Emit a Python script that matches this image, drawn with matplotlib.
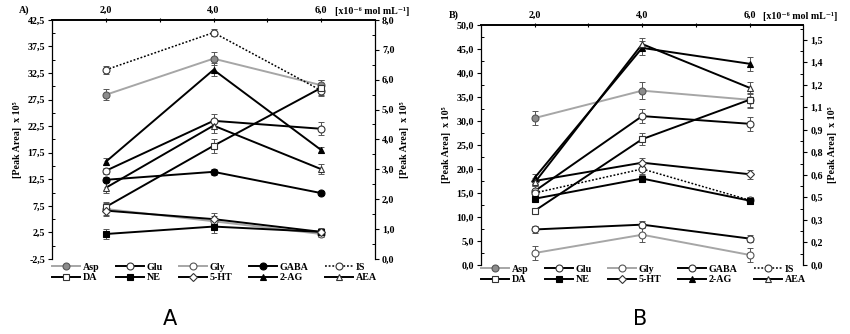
import numpy as np
import matplotlib.pyplot as plt
from matplotlib.ticker import MultipleLocator, FixedLocator

# concentration levels [x10-6 mol/mL]
conc = [2.0, 4.0, 6.0]
compounds = ['Asp', 'Glu', 'Gly', 'GABA', 'IS', 'DA', 'NE', '5-HT', '2-AG', 'AEA']

# Panel A - peak area x 10^5 (left axis units)
a_mean = [
    [28.4, 35.2, 30.2],   # Asp
    [14.1, 23.5, 22.0],   # Glu
    [6.9, 4.6, 2.2],      # Gly
    [12.4, 13.9, 9.9],    # GABA
    [33.1, 40.1, 29.2],   # IS
    [7.3, 18.8, 29.7],    # DA
    [2.2, 3.6, 2.6],      # NE
    [6.6, 5.0, 2.6],      # 5-HT
    [15.8, 33.1, 18.0],   # 2-AG
    [10.9, 22.6, 14.4],   # AEA
]
a_err = [
    [1.0, 1.2, 1.0], [0.6, 1.2, 1.2], [1.2, 1.0, 0.6], [0.5, 0.6, 0.4], [0.7, 0.7, 0.8],
    [0.9, 1.3, 1.5], [0.9, 1.2, 0.5], [1.0, 1.2, 0.8], [0.7, 1.2, 0.6], [1.0, 1.3, 0.9],
]

# Panel B - peak area x 10^5 (left axis units)
b_mean = [
    [30.6, 36.3, 34.4],   # Asp
    [15.4, 31.0, 29.4],   # Glu
    [2.5, 6.3, 2.1],      # Gly
    [7.4, 8.4, 5.5],      # GABA
    [15.0, 20.0, 13.5],   # IS
    [11.3, 26.2, 34.4],   # DA
    [13.8, 18.0, 13.4],   # NE
    [17.5, 21.3, 18.9],   # 5-HT
    [18.2, 45.2, 41.9],   # 2-AG
    [17.2, 46.0, 36.9],   # AEA
]
b_err = [
    [1.5, 1.8, 1.5], [1.0, 1.5, 1.5], [1.4, 1.6, 1.5], [0.8, 0.8, 0.8], [0.8, 1.0, 0.6],
    [0.5, 1.3, 1.8], [0.7, 0.8, 0.8], [0.7, 1.0, 0.9], [0.8, 1.5, 1.5], [0.8, 1.3, 1.2],
]

a_right_ticks = [0, 1, 2, 3, 4, 5, 6, 7, 8]
b_right_ticks = [0, 0.15, 0.30, 0.45, 0.60, 0.75, 0.90, 1.05, 1.20, 1.35, 1.50]
b_right_labels = ['0,0', '0,2', '0,3', '0,5', '0,6', '0,8', '0,9', '1,1', '1,2', '1,4', '1,5']

GRAY = '#a6a6a6'
serif = ['Liberation Serif', 'DejaVu Serif']
fs = 7.2

def style(name, panel):
    s = dict(color='black', ls='-', marker='o', mfc='white', mec='#333333', lw=1.4)
    if name == 'Asp':
        s.update(color=GRAY, mfc='#8c8c8c', mec='#555555')
    elif name == 'Gly':
        s.update(color=GRAY, mec='#555555')
    elif name == 'GABA' and panel == 'A':
        s.update(mfc='black', mec='black')
    elif name == 'IS':
        s.update(ls=(0, (1.2, 1.2)), lw=1.1)
    elif name == 'DA':
        s.update(marker='s')
    elif name == 'NE':
        s.update(marker='s', mfc='black', mec='black')
    elif name == '5-HT':
        s.update(marker='D', ms_scale=0.8)
    elif name == '2-AG':
        s.update(marker='^', mfc='black', mec='black')
    elif name == 'AEA':
        s.update(marker='^')
    return s


fig = plt.figure(figsize=(8.5, 3.34), dpi=100)
plt.rcParams['font.family'] = serif
plt.rcParams['font.weight'] = 'bold'


def fmt(v):
    return f'{v:.1f}'.replace('.', ',')


def panel(rect, means, errs, ylim, left_ticks, right_lim, right_ticks, right_labels,
          tag, big, big_x, leg_y):
    ax = fig.add_axes(rect)
    handles = {}
    for name, m, e in zip(compounds, means, errs):
        s = style(name, tag)
        ms = 5.0 * s.pop('ms_scale', 1.0)
        ax.errorbar(conc, m, yerr=e, fmt='none', ecolor='#555555', elinewidth=0.7,
                    capsize=2, capthick=0.7, zorder=2)
        h, = ax.plot(conc, m, color=s['color'], ls=s['ls'], lw=s['lw'],
                     marker=s['marker'], ms=ms, mfc=s['mfc'], mec=s['mec'],
                     mew=0.8, zorder=3, label=name)
        handles[name] = h
    ax.set_xlim(1, 7)
    ax.set_ylim(*ylim)
    ax.spines['bottom'].set_visible(False)
    ax.spines['top'].set_linewidth(1.4)
    ax.spines['left'].set_linewidth(0.9)
    ax.spines['right'].set_visible(False)
    ax.xaxis.tick_top()
    ax.set_xticks([2, 4, 6])
    ax.set_xticklabels([fmt(v) for v in [2, 4, 6]], fontsize=fs, fontweight='bold')
    ax.xaxis.set_minor_locator(FixedLocator([3, 5]))
    ax.tick_params(axis='x', which='both', direction='inout', length=3, width=0.8, pad=2)
    ax.set_yticks(left_ticks)
    ax.set_yticklabels([fmt(v) for v in left_ticks], fontsize=fs, fontweight='bold')
    ax.yaxis.set_minor_locator(MultipleLocator((left_ticks[1] - left_ticks[0]) / 2))
    ax.tick_params(axis='y', which='major', direction='out', length=3, width=0.8, pad=2)
    ax.tick_params(axis='y', which='minor', direction='in', length=2, width=0.7)
    ax.set_ylabel('[Peak Area]  x 10⁵', fontsize=fs, fontweight='bold', labelpad=4)

    ax2 = ax.twinx()
    ax2.set_ylim(*right_lim)
    for sp in ['top', 'bottom', 'left']:
        ax2.spines[sp].set_visible(False)
    ax2.spines['right'].set_linewidth(0.9)
    ax2.set_yticks(right_ticks)
    ax2.set_yticklabels(right_labels, fontsize=fs, fontweight='bold')
    ax2.yaxis.set_minor_locator(MultipleLocator((right_ticks[1] - right_ticks[0]) / 2))
    ax2.tick_params(axis='y', which='major', direction='out', length=3, width=0.8, pad=2)
    ax2.tick_params(axis='y', which='minor', direction='in', length=2, width=0.7)
    ax2.set_ylabel('[Peak Area]  x 10⁵', fontsize=fs, fontweight='bold', labelpad=4)

    ax.annotate('[x10⁻⁶ mol mL⁻¹]', xy=(6.25, 1.0), xycoords=ax.get_xaxis_transform(),
                xytext=(0, 4.5), textcoords='offset points',
                fontsize=fs, fontweight='bold', ha='left', va='baseline', family=serif)
    ax.text(-0.07, 1.02, tag + ')', transform=ax.transAxes, fontsize=fs,
            fontweight='bold', ha='right', va='bottom')

    order = ['Asp', 'DA', 'Glu', 'NE', 'Gly', '5-HT', 'GABA', '2-AG', 'IS', 'AEA']
    fig.legend([handles[n] for n in order], order, ncol=5, frameon=False,
               loc='upper left', bbox_to_anchor=(rect[0], leg_y),
               prop={'family': serif, 'weight': 'bold', 'size': fs},
               handlelength=2.8, handletextpad=0.3, columnspacing=1.6,
               labelspacing=0.15, borderaxespad=0, borderpad=0)
    fig.text(big_x, 0.045, big, fontsize=15, family='DejaVu Sans', ha='center',
             va='center', fontweight='normal')
    return ax


panel([0.0612, 0.2246, 0.380, 0.716], a_mean, a_err, (-2.5, 42.5),
      [-2.5, 2.5, 7.5, 12.5, 17.5, 22.5, 27.5, 32.5, 37.5, 42.5],
      (0, 8), a_right_ticks, [fmt(v) for v in a_right_ticks], 'A', 'A', 0.20, 0.213)
panel([0.566, 0.2066, 0.379, 0.719], b_mean, b_err, (0, 50),
      [0, 5, 10, 15, 20, 25, 30, 35, 40, 45, 50],
      (0, 1.6), b_right_ticks, b_right_labels, 'B', 'B', 0.753, 0.207)

fig.savefig('out.png', dpi=100)
